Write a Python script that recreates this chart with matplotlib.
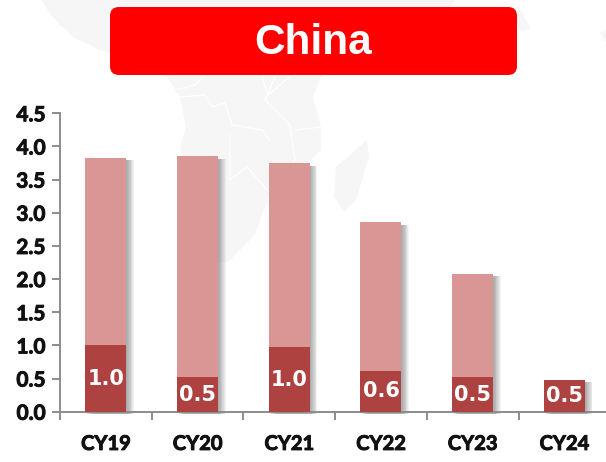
import numpy as np
import matplotlib
matplotlib.use('Agg')
import matplotlib.pyplot as plt
import matplotlib.patheffects as pe
from matplotlib.patches import FancyBboxPatch

years = ['CY19', 'CY20', 'CY21', 'CY22', 'CY23', 'CY24']
dark_values = [1.0, 0.52, 0.98, 0.62, 0.52, 0.48]
light_values = [2.83, 3.33, 2.77, 2.24, 1.56, 0.0]
labels = ['1.0', '0.5', '1.0', '0.6', '0.5', '0.5']
y_ticks = [0.0, 0.5, 1.0, 1.5, 2.0, 2.5, 3.0, 3.5, 4.0, 4.5]

# faint map behind the chart, pixel coords
africa = [(42, 0), (50, 14), (58, 23), (73, 37), (100, 50), (140, 62), (166, 77), (180, 97),
          (186, 127), (180, 147), (190, 185), (205, 230), (212, 262), (228, 262), (255, 235),
          (270, 193), (290, 180), (321, 150), (321, 127), (313, 97), (321, 77), (345, 62),
          (400, 40), (440, 22), (455, 0)]
madagascar = [(336, 167), (350, 155), (367, 140), (369, 157), (356, 200), (344, 212), (334, 197)]
horn = [(518, 5), (530, 28), (522, 32), (512, 20)]
right_bit = [(606, 30), (599, 33), (606, 42)]
borders = [[(180, 97), (205, 95), (212, 107), (225, 103), (232, 125), (262, 130), (270, 140)],
           [(230, 135), (230, 180), (247, 167), (270, 193)],
           [(275, 77), (265, 100), (290, 125), (295, 160), (270, 190)],
           [(295, 130), (321, 127)],
           [(166, 77), (175, 90), (195, 85), (203, 77)],
           [(262, 77), (268, 95), (280, 85), (290, 77)]]

map_grey = '#f6f6f6'
light_red = '#d99694'
dark_red = '#ad4240'
axis_grey = '#8c8c8c'
ink = '#111111'

fig = plt.figure(figsize=(6.06, 4.62), dpi=100)

# background layer in pixels
bg = fig.add_axes([0, 0, 1, 1], zorder=0)
bg.set_xlim(0, 606)
bg.set_ylim(462, 0)
bg.axis('off')
for shape in [africa, madagascar, horn, right_bit]:
    bg.fill(*zip(*shape), color=map_grey, lw=0)
for line in borders:
    bg.plot(*zip(*line), color='white', lw=0.9)

# px: left 60, right 606, baseline 411.7, 4.5 at 113.3
ax = fig.add_axes([60 / 606, (462 - 411.7) / 462, 546 / 606, 298.4 / 462], zorder=1)
ax.patch.set_alpha(0)
x = np.arange(len(years))
bar_w = 0.447
totals = np.array(dark_values) + np.array(light_values)

# soft shadow on the right side, fades outward
shadow = [pe.SimplePatchShadow(offset=(k, -1.8), shadow_rgbFace='#666666', alpha=0.08)
          for k in [0.6, 1.2, 1.8, 2.4, 3.0, 3.6, 4.2, 4.8, 5.4]]
ax.bar(x, totals, bar_w, color='white', zorder=2, clip_on=False,
       path_effects=shadow + [pe.Normal()])
ax.bar(x, light_values, bar_w, bottom=dark_values, color=light_red, zorder=3)
ax.bar(x, dark_values, bar_w, color=dark_red, zorder=4)

for i, txt in enumerate(labels):
    ax.text(x[i], dark_values[i] / 2 - 0.005, txt, color='white', ha='center', va='center',
            fontsize=15, fontweight='bold', family='DejaVu Sans', zorder=5)

ax.set_xlim(-0.5, -0.5 + 546 / 91.7)
ax.set_ylim(0, 4.5)
ax.set_yticks(y_ticks)
ax.set_yticklabels([f'{v:.1f}' for v in y_ticks], fontsize=15, fontweight='bold',
                   family='Lato', color=ink)
ax.set_xticks(x)
ax.set_xticklabels(years, fontsize=14.5, fontweight='bold', family='Lato', color=ink)
ax.set_xticks(np.arange(len(years)) - 0.5, minor=True)
ax.tick_params(axis='x', which='major', length=0, pad=16)
ax.tick_params(axis='x', which='minor', length=5.5, width=1.4, color=axis_grey)
ax.tick_params(axis='y', length=5.5, width=1.4, color=axis_grey, pad=5)
# Lato bold is a bit lighter than the original labels
for lab in ax.get_xticklabels() + ax.get_yticklabels():
    lab.set_path_effects([pe.withStroke(linewidth=0.7, foreground=ink)])
for side in ['top', 'right']:
    ax.spines[side].set_visible(False)
for side in ['left', 'bottom']:
    ax.spines[side].set_color(axis_grey)
    ax.spines[side].set_linewidth(1.4)

# title box on top of everything
top = fig.add_axes([0, 0, 1, 1], zorder=2)
top.set_xlim(0, 606)
top.set_ylim(462, 0)
top.axis('off')
top.add_patch(FancyBboxPatch((110, 7), 407, 68, boxstyle='round,pad=0,rounding_size=9',
                             facecolor='#ff0000', edgecolor='none'))
top.text(313.5, 43, 'China', color='white', ha='center', va='center', fontsize=30.5,
         fontweight='bold', family='Liberation Sans')

plt.savefig('out.png', dpi=100)
